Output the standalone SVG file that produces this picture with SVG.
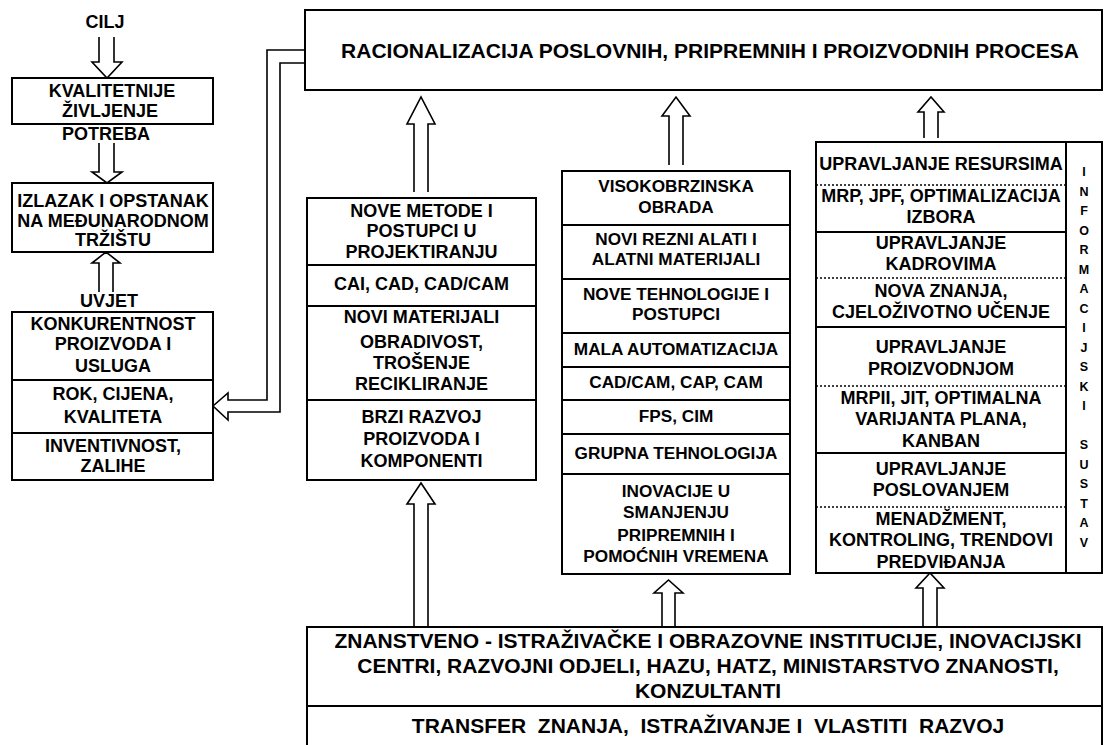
<svg xmlns="http://www.w3.org/2000/svg" width="1104" height="745" viewBox="0 0 1104 745">
<style>
.box{fill:#fff;stroke:#000;stroke-width:2}
.div{stroke:#000;stroke-width:2;fill:none}
.dot{stroke:#000;stroke-width:1.5;stroke-dasharray:2,2;fill:none}
.arr{fill:#fff;stroke:#000;stroke-width:1.6;stroke-linejoin:miter}
text{font-family:"Liberation Sans",Arial,sans-serif;font-weight:bold;fill:#000;text-anchor:middle}
.l{font-size:18px}
.m{font-size:17.2px}
.r{font-size:18px}
.big{font-size:21px}
.v{font-size:12.5px}
.pre{white-space:pre}
</style>
<rect width="1104" height="745" fill="#fff"/>

<g id="connectors">
  <!-- left column -->
  <path class="arr" d="M99,37 V62 H92 L107,78 L122,62 H114 V37"/>
  <path class="arr" d="M99,143 V172 H92 L107,183 L122,172 H114 V143"/>
  <path class="arr" d="M99,292 V263 H92 L106,252 L120,263 H113 V292"/>
  <!-- feedback from top box to left box -->
  <path class="arr" style="fill:none" d="M305,50 H267 V400 H228 V393 L213,406 L228,420 V412 H280 V63 H305"/>
  <!-- column 2 -->
  <path class="arr" d="M414,192 V124 H407 L421,97 L435,124 H428 V192"/>
  <path class="arr" d="M414,627 V504 H407 L421,483 L435,504 H428 V627"/>
  <!-- column 3 -->
  <path class="arr" d="M669,165 V116 H662 L676,97 L690,116 H683 V165"/>
  <path class="arr" d="M662,627 V593 H654 L668.5,580 L683,593 H675 V627"/>
  <!-- column 4 -->
  <path class="arr" d="M924,138 V112 H918 L931,97 L944,112 H938 V138"/>
  <path class="arr" d="M923,627 V588 H916 L930,573 L944,588 H937 V627"/>
</g>

<g id="cilj"><text class="l" x="105" y="28">CILJ</text></g>

<g id="kvalitetnije">
  <rect class="box" x="12" y="78" width="201" height="46"/>
  <text class="l" x="112" y="97">KVALITETNIJE</text>
  <text class="l" x="110" y="117">ŽIVLJENJE</text>
</g>

<g id="potreba"><text class="l" x="106" y="140">POTREBA</text></g>

<g id="izlazak">
  <rect class="box" x="12" y="183" width="201" height="69"/>
  <text class="l" x="113" y="207">IZLAZAK I OPSTANAK</text>
  <text class="l" x="113" y="227">NA MEĐUNARODNOM</text>
  <text class="l" x="113" y="246">TRŽIŠTU</text>
</g>

<g id="uvjet"><text class="l" x="109" y="307">UVJET</text></g>

<g id="konkurentnost">
  <rect class="box" x="12" y="312" width="201" height="168"/>
  <line class="div" x1="12" y1="380" x2="213" y2="380"/>
  <line class="div" x1="12" y1="433" x2="213" y2="433"/>
  <text class="l" x="113" y="330">KONKURENTNOST</text>
  <text class="l" x="113" y="350">PROIZVODA I</text>
  <text class="l" x="113" y="372">USLUGA</text>
  <text class="l" x="113" y="400">ROK, CIJENA,</text>
  <text class="l" x="113" y="423">KVALITETA</text>
  <text class="l" x="113" y="452">INVENTIVNOST,</text>
  <text class="l" x="113" y="472">ZALIHE</text>
</g>

<g id="racionalizacija">
  <rect class="box" x="305" y="10" width="797" height="80"/>
  <text class="big" x="710" y="58">RACIONALIZACIJA POSLOVNIH, PRIPREMNIH I PROIZVODNIH PROCESA</text>
</g>

<g id="metode">
  <rect class="box" x="307" y="198" width="229" height="282"/>
  <line class="div" x1="307" y1="265" x2="536" y2="265"/>
  <line class="div" x1="307" y1="306" x2="536" y2="306"/>
  <line class="div" x1="307" y1="400" x2="536" y2="400"/>
  <text class="l" x="421.5" y="217">NOVE METODE I</text>
  <text class="l" x="421.5" y="237">POSTUPCI U</text>
  <text class="l" x="421.5" y="258">PROJEKTIRANJU</text>
  <text class="l" x="421.5" y="290">CAI, CAD, CAD/CAM</text>
  <text class="l" x="421.5" y="323">NOVI MATERIJALI</text>
  <text class="l" x="421.5" y="348">OBRADIVOST,</text>
  <text class="l" x="421.5" y="369">TROŠENJE</text>
  <text class="l" x="421.5" y="390">RECIKLIRANJE</text>
  <text class="l" x="421.5" y="423">BRZI RAZVOJ</text>
  <text class="l" x="421.5" y="445">PROIZVODA I</text>
  <text class="l" x="421.5" y="467">KOMPONENTI</text>
</g>

<g id="tehnologije">
  <rect class="box" x="562" y="171" width="228" height="403"/>
  <line class="div" x1="562" y1="225" x2="790" y2="225"/>
  <line class="div" x1="562" y1="279" x2="790" y2="279"/>
  <line class="div" x1="562" y1="333" x2="790" y2="333"/>
  <line class="div" x1="562" y1="367" x2="790" y2="367"/>
  <line class="div" x1="562" y1="400" x2="790" y2="400"/>
  <line class="div" x1="562" y1="434" x2="790" y2="434"/>
  <line class="div" x1="562" y1="474" x2="790" y2="474"/>
  <text class="m" x="676" y="192">VISOKOBRZINSKA</text>
  <text class="m" x="676" y="213">OBRADA</text>
  <text class="m" x="676" y="245">NOVI REZNI ALATI I</text>
  <text class="m" x="676" y="265">ALATNI MATERIJALI</text>
  <text class="m" x="676" y="300">NOVE TEHNOLOGIJE I</text>
  <text class="m" x="676" y="320">POSTUPCI</text>
  <text class="m" x="676" y="355">MALA AUTOMATIZACIJA</text>
  <text class="m" x="676" y="388">CAD/CAM, CAP, CAM</text>
  <text class="m" x="676" y="422">FPS, CIM</text>
  <text class="m" x="676" y="459">GRUPNA TEHNOLOGIJA</text>
  <text class="m" x="676" y="497">INOVACIJE U</text>
  <text class="m" x="676" y="518">SMANJENJU</text>
  <text class="m" x="676" y="541">PRIPREMNIH I</text>
  <text class="m" x="676" y="562">POMOĆNIH VREMENA</text>
</g>

<g id="upravljanje">
  <rect class="box" x="816" y="142" width="286" height="431"/>
  <line class="div" x1="1066" y1="142" x2="1066" y2="573"/>
  <line class="dot" x1="816" y1="185" x2="1066" y2="185"/>
  <line class="div" x1="816" y1="232" x2="1066" y2="232"/>
  <line class="dot" x1="816" y1="278" x2="1066" y2="278"/>
  <line class="div" x1="816" y1="327" x2="1066" y2="327"/>
  <line class="dot" x1="816" y1="386" x2="1066" y2="386"/>
  <line class="div" x1="816" y1="453" x2="1066" y2="453"/>
  <line class="dot" x1="816" y1="507" x2="1066" y2="507"/>
  <text class="r" x="941" y="170">UPRAVLJANJE RESURSIMA</text>
  <text class="r" x="941" y="202">MRP, JPF, OPTIMALIZACIJA</text>
  <text class="r" x="941" y="223">IZBORA</text>
  <text class="r" x="941" y="249">UPRAVLJANJE</text>
  <text class="r" x="941" y="270">KADROVIMA</text>
  <text class="r" x="941" y="297">NOVA ZNANJA,</text>
  <text class="r" x="941" y="318">CJELOŽIVOTNO UČENJE</text>
  <text class="r" x="941" y="353">UPRAVLJANJE</text>
  <text class="r" x="941" y="375">PROIZVODNJOM</text>
  <text class="r" x="941" y="404">MRPII, JIT, OPTIMALNA</text>
  <text class="r" x="941" y="425">VARIJANTA PLANA,</text>
  <text class="r" x="941" y="447">KANBAN</text>
  <text class="r" x="941" y="475">UPRAVLJANJE</text>
  <text class="r" x="941" y="496">POSLOVANJEM</text>
  <text class="r" x="941" y="525">MENADŽMENT,</text>
  <text class="r" x="941" y="546">KONTROLING, TRENDOVI</text>
  <text class="r" x="941" y="568">PREDVIĐANJA</text>
</g>

<g id="informacijski-sustav">
  <text class="v" x="1084" y="176">I</text>
  <text class="v" x="1084" y="195.5">N</text>
  <text class="v" x="1084" y="215">F</text>
  <text class="v" x="1084" y="234.5">O</text>
  <text class="v" x="1084" y="254">R</text>
  <text class="v" x="1084" y="273.5">M</text>
  <text class="v" x="1084" y="293">A</text>
  <text class="v" x="1084" y="312.5">C</text>
  <text class="v" x="1084" y="332">I</text>
  <text class="v" x="1084" y="351.5">J</text>
  <text class="v" x="1084" y="371">S</text>
  <text class="v" x="1084" y="390.5">K</text>
  <text class="v" x="1084" y="410">I</text>
  <text class="v" x="1084" y="449">S</text>
  <text class="v" x="1084" y="468.5">U</text>
  <text class="v" x="1084" y="488">S</text>
  <text class="v" x="1084" y="507.5">T</text>
  <text class="v" x="1084" y="527">A</text>
  <text class="v" x="1084" y="546.5">V</text>
</g>

<g id="institucije">
  <rect class="box" x="307" y="627" width="795" height="130"/>
  <line class="div" x1="307" y1="706" x2="1102" y2="706"/>
  <text class="big" x="708" y="648">ZNANSTVENO - ISTRAŽIVAČKE I OBRAZOVNE INSTITUCIJE, INOVACIJSKI</text>
  <text class="big" x="708" y="673">CENTRI, RAZVOJNI ODJELI, HAZU, HATZ, MINISTARSTVO ZNANOSTI,</text>
  <text class="big" x="708" y="698">KONZULTANTI</text>
  <text class="big pre" x="708" y="733">TRANSFER  ZNANJA,  ISTRAŽIVANJE I  VLASTITI  RAZVOJ</text>
</g>
</svg>
